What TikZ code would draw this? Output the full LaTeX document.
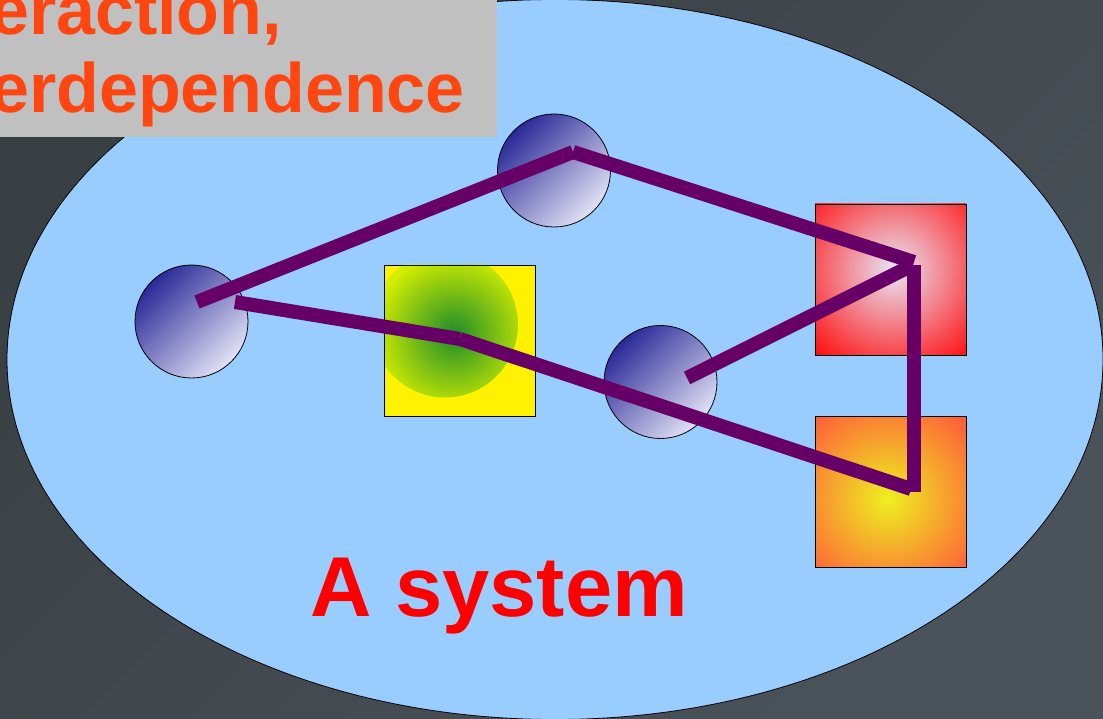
\documentclass[tikz,border=0pt]{standalone}
\usepackage{fontspec}
\setmainfont{Liberation Sans}
\begin{document}
\begin{tikzpicture}[x=1pt,y=-1pt]
\definecolor{bgA}{HTML}{394043}
\definecolor{bgB}{HTML}{4A525A}
\definecolor{sky}{HTML}{99CCFF}
\definecolor{boxgray}{HTML}{C0C0C0}
\definecolor{orangetext}{HTML}{FF4510}
\definecolor{ballA}{HTML}{2A2A98}
\definecolor{ballB}{HTML}{E2E2F6}
\definecolor{linkc}{HTML}{660066}
\definecolor{gcen}{HTML}{1E8C2A}
\definecolor{gedge}{HTML}{D4EE00}
\definecolor{rcen}{HTML}{E8E6F6}
\definecolor{ocen}{HTML}{EEF020}
\definecolor{oedge}{HTML}{FF5A3A}
\tikzset{
  ball/.style={circle, draw=black, line width=0.8pt, minimum size=113pt, inner sep=0pt,
    top color=ballA, bottom color=ballB, shading angle=45},
  sq/.style={rectangle, draw=black, line width=0.8pt, minimum size=151pt, inner sep=0pt},
  link/.style={draw=linkc, line width=14pt},
  toptext/.style={text=orangetext, font=\fontsize{70}{77}\selectfont\bfseries, inner sep=0pt, anchor=base west},
  systext/.style={text=red, font=\fontsize{85}{90}\selectfont\bfseries, inner sep=0pt, anchor=base west}
}
\useasboundingbox (0,0) rectangle (1103,719);
\clip (0,0) rectangle (1103,719);
\shade[top color=bgA, bottom color=bgB, shading angle=45] (-5,-5) rectangle (1108,724);
% system ellipse
\draw[fill=sky, line width=0.8pt] (555,359.5) ellipse [x radius=548, y radius=360];
% title box
\fill[boxgray] (0,0) rectangle (497,137);
\node[toptext] (t1) at (-10,35) {eraction,};
\node[toptext] (t2) at (-10,113) {erdependence};
% elements
\node[ball] (c1) at (191.5,321.5) {};
\node[ball] (c2) at (554,170.5) {};
\node[ball] (c3) at (660.5,382) {};
\node[sq, fill=yellow, path picture={\shade[inner color=gcen, outer color=gedge] ([shift={(-15pt,16pt)}]path picture bounding box.center) circle (73pt);}] (s1) at (460,340.5) {};
\node[sq, fill=red, path picture={\shade[inner color=rcen, outer color=red] ([shift={(3pt,10pt)}]path picture bounding box.center) circle (122pt);}] (s2) at (890.5,279.5) {};
\node[sq, fill=oedge, path picture={\shade[inner color=ocen, outer color=oedge] ([shift={(-3pt,-7pt)}]path picture bounding box.center) circle (112pt);}] (s3) at (890.5,491.5) {};
% connector end points
\coordinate (p1) at (197,302);
\coordinate (p2) at (573,152);
\coordinate (p3) at (914,262);
\coordinate (p4) at (687,378);
\coordinate (p5) at (913,265);
\coordinate (p6) at (913.5,265);
\coordinate (p7) at (913.5,492);
\coordinate (p8) at (911,489);
\coordinate (p9) at (460,339);
\coordinate (p10) at (235,302);
\draw[link] (p1) -- (p2);
\draw[link] (p2) -- (p3);
\draw[link] (p4) -- (p5);
\draw[link] (p6) -- (p7);
\draw[link] (p8) -- (p9);
\draw[link] (p9) -- (p10);
% label
\node[systext] (sys) at (310,616) {A system};
\end{tikzpicture}
\end{document}
